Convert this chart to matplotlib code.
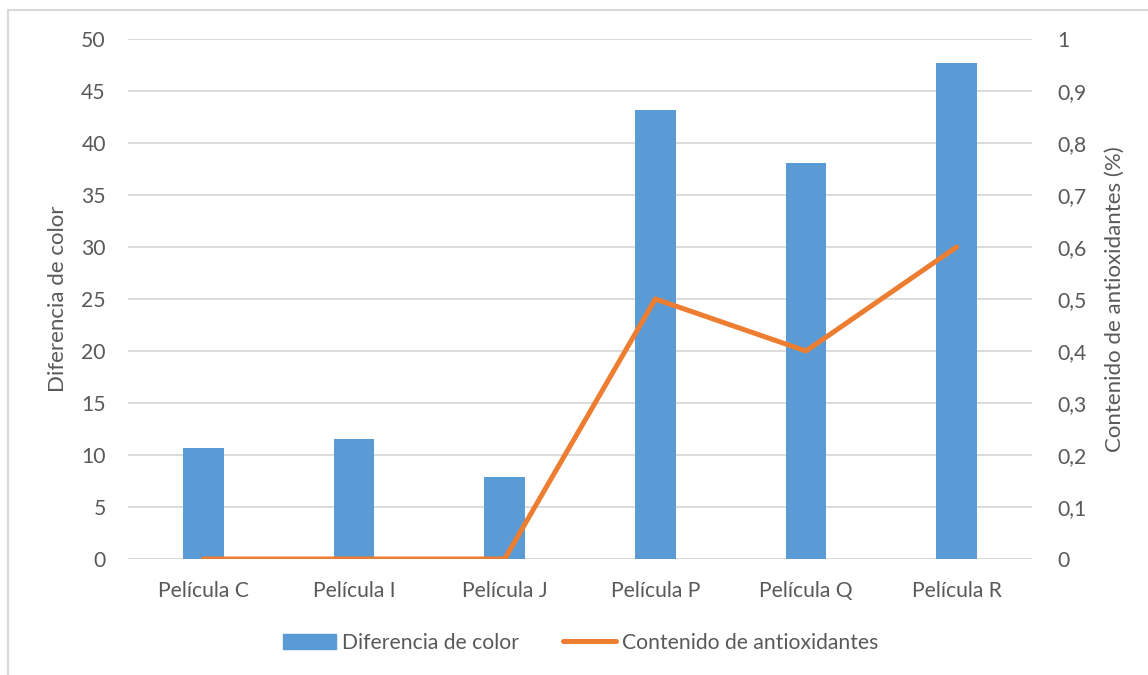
import matplotlib
matplotlib.use("Agg")
import matplotlib.pyplot as plt
from matplotlib.lines import Line2D
from matplotlib.patches import Patch
import numpy as np

# Data
peliculas = ["Película C", "Película I", "Película J", "Película P", "Película Q", "Película R"]
diferencia_color = [10.7, 11.5, 7.9, 43.2, 38.1, 47.7]
antioxidantes = [0, 0, 0, 0.5, 0.4, 0.6]

left_ticks = [0, 5, 10, 15, 20, 25, 30, 35, 40, 45, 50]
right_ticks = [0, 0.1, 0.2, 0.3, 0.4, 0.5, 0.6, 0.7, 0.8, 0.9, 1.0]

BLUE = "#5B9BD5"
ORANGE = "#ED7D31"
TEXT = "#595959"
GRID = "#D9D9D9"

plt.rcParams["font.family"] = ["Lato", "DejaVu Sans"]

W, H = 1148, 675
fig = plt.figure(figsize=(W / 100, H / 100), dpi=100)
ax = fig.add_axes([128 / W, 1 - 559 / H, 904 / W, 520 / H])
ax2 = ax.twinx()

x = np.arange(len(peliculas))
ax.bar(x, diferencia_color, width=0.27, color=BLUE, zorder=2)
ax2.plot(x, antioxidantes, color=ORANGE, linewidth=3.6, solid_capstyle="round",
         solid_joinstyle="round", zorder=3)

ax.set_xlim(-0.5, len(peliculas) - 0.5)
ax.set_ylim(0, 50)
ax2.set_ylim(0, 1)
ax.set_yticks(left_ticks)
ax.set_yticklabels([str(t) for t in left_ticks])
ax2.set_yticks(right_ticks)
ax2.set_yticklabels([("%g" % t).replace(".", ",") for t in right_ticks])
ax.set_xticks(x)
ax.set_xticklabels(peliculas)

ax.yaxis.grid(True, color=GRID, linewidth=1.3, zorder=0)
ax.set_axisbelow(True)
for a in (ax, ax2):
    for s in a.spines.values():
        s.set_visible(False)
    a.tick_params(length=0, labelsize=15.2, labelcolor=TEXT)
ax.tick_params(axis="y", pad=16)
ax2.tick_params(axis="y", pad=18)
ax.tick_params(axis="x", pad=16)

ax.set_ylabel("Diferencia de color", fontsize=16, color=TEXT)
ax2.set_ylabel("Contenido de antioxidantes (%)", fontsize=16, color=TEXT)
ax.yaxis.set_label_coords((68 - 128) / 904, 0.5)
ax2.yaxis.set_label_coords((1105 - 128) / 904, 0.5)

handles = [Patch(color=BLUE), Line2D([0], [0], color=ORANGE, linewidth=3.6,
                                      solid_capstyle="round")]
fig.legend(handles, ["Diferencia de color", "Contenido de antioxidantes"],
           loc="center", bbox_to_anchor=(0.506, 0.048), ncol=2, frameon=False,
           fontsize=15.2, labelcolor=TEXT, handlelength=2.5, handletextpad=0.3,
           columnspacing=2.1)

# outer chart border (top and left edges)
fig.add_artist(Line2D([8 / W, 1.0], [1 - 10 / H, 1 - 10 / H],
                      color=GRID, linewidth=1.5, transform=fig.transFigure))
fig.add_artist(Line2D([8 / W, 8 / W], [0.0, 1 - 10 / H],
                      color=GRID, linewidth=1.5, transform=fig.transFigure))

fig.savefig("out.png", dpi=100, facecolor="white")
